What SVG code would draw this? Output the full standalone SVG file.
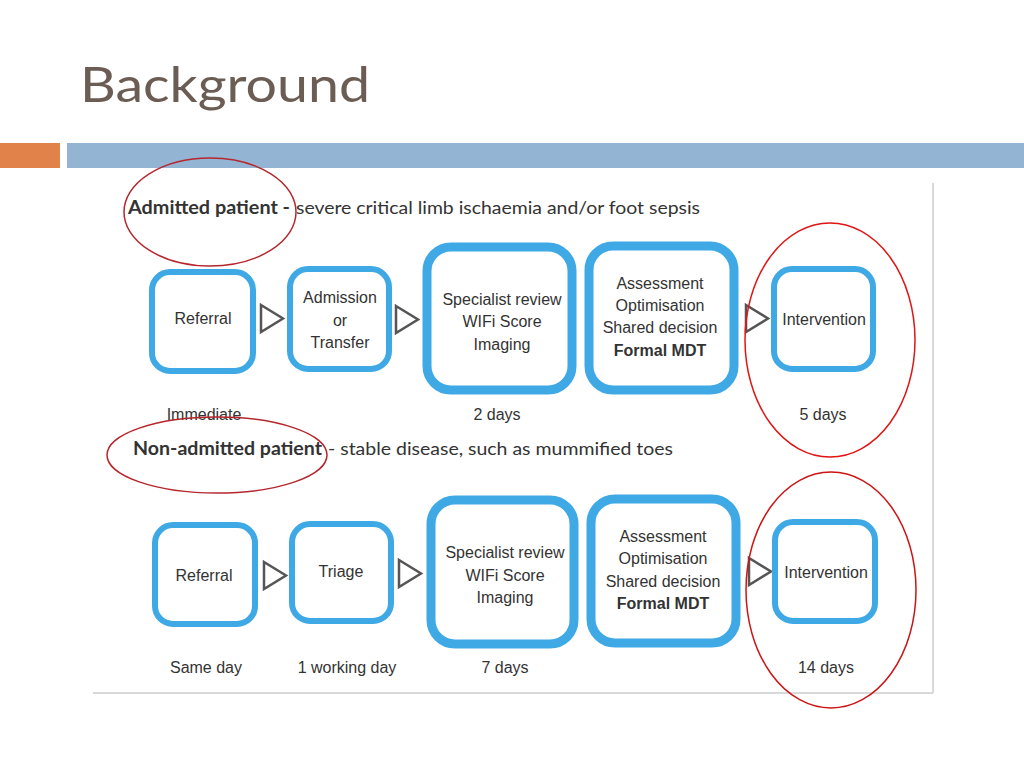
<svg xmlns="http://www.w3.org/2000/svg" width="1024" height="768" viewBox="0 0 1024 768">
<style>
.box{fill:#fff;stroke:#3fa9e6;stroke-width:6}
.big{stroke-width:9}
.t{font-family:"Liberation Sans",Arial,sans-serif;font-size:16px;fill:#333;text-anchor:middle}
.b{font-weight:bold}
.lab{font-family:"Liberation Sans",Arial,sans-serif;font-size:16px;fill:#333;text-anchor:middle}
.hd{font-family:Lato,"Open Sans",sans-serif;font-size:18px;fill:#333}
.arr{fill:#fff;stroke:#555;stroke-width:2.5;stroke-linejoin:miter}
.ov{fill:none;stroke-width:1.5}
</style>
<rect width="1024" height="768" fill="#fff"/>
<text x="80" y="102" font-family="Lato,'Open Sans',sans-serif" font-size="48" fill="#6b5d53" textLength="290" lengthAdjust="spacingAndGlyphs">Background</text>
<rect x="0" y="143" width="60" height="25" fill="#e0824a"/>
<rect x="67" y="143" width="957" height="25" fill="#94b4d3"/>
<g id="frame">
<line x1="933" y1="183" x2="933" y2="693" stroke="#ccc" stroke-width="1.5"/>
<line x1="93" y1="693" x2="933" y2="693" stroke="#ccc" stroke-width="1.5"/>
</g>
<g id="header1">
<text class="hd" y="214"><tspan x="128" font-weight="bold" textLength="162" lengthAdjust="spacingAndGlyphs">Admitted patient -</tspan><tspan x="296" textLength="404" lengthAdjust="spacingAndGlyphs">severe critical limb ischaemia and/or foot sepsis</tspan></text>
</g>
<g id="header2">
<text class="hd" y="455"><tspan x="133" font-weight="bold" textLength="189" lengthAdjust="spacingAndGlyphs">Non-admitted patient</tspan><tspan x="328" textLength="345" lengthAdjust="spacingAndGlyphs">- stable disease, such as mummified toes</tspan></text>
</g>
<g id="connectors">
<polygon class="arr" points="261,305 283,318.5 261,332"/>
<polygon class="arr" points="396,306 418,319.5 396,333"/>
<polygon class="arr" points="746,305 768,318.5 746,332"/>
<polygon class="arr" points="264,562 286,575.5 264,589"/>
<polygon class="arr" points="399,560 421,573.5 399,587"/>
<polygon class="arr" points="749,558 771,571.5 749,585"/>
</g>
<g id="r1-referral"><rect class="box" x="152" y="272" width="101" height="99" rx="18"/><text class="t" x="203" y="324">Referral</text></g>
<g id="r1-admission"><rect class="box" x="290" y="269" width="99" height="100" rx="18"/><text class="t" x="340" y="303">Admission</text><text class="t" x="340" y="326">or</text><text class="t" x="340" y="348">Transfer</text></g>
<g id="r1-specialist"><rect class="box big" x="427" y="247" width="145" height="143" rx="24"/><text class="t" x="502" y="305">Specialist review</text><text class="t" x="502" y="327">WIFi Score</text><text class="t" x="502" y="350">Imaging</text></g>
<g id="r1-assessment"><rect class="box big" x="589" y="246" width="145" height="144" rx="24"/><text class="t" x="660" y="289">Assessment</text><text class="t" x="660" y="311">Optimisation</text><text class="t" x="660" y="333">Shared decision</text><text class="t b" x="660" y="356">Formal MDT</text></g>
<g id="r1-intervention"><rect class="box" x="774" y="269" width="99" height="100" rx="18"/><text class="t" x="824" y="325">Intervention</text></g>
<text class="lab" x="204" y="420">Immediate</text>
<text class="lab" x="497" y="420">2 days</text>
<text class="lab" x="823" y="420">5 days</text>
<g id="r2-referral"><rect class="box" x="155" y="525" width="100" height="99" rx="18"/><text class="t" x="204" y="581">Referral</text></g>
<g id="r2-triage"><rect class="box" x="292" y="524" width="99" height="97" rx="18"/><text class="t" x="341" y="577">Triage</text></g>
<g id="r2-specialist"><rect class="box big" x="431" y="500" width="143" height="144" rx="24"/><text class="t" x="505" y="558">Specialist review</text><text class="t" x="505" y="581">WIFi Score</text><text class="t" x="505" y="603">Imaging</text></g>
<g id="r2-assessment"><rect class="box big" x="591" y="499" width="145" height="144" rx="24"/><text class="t" x="663" y="542">Assessment</text><text class="t" x="663" y="564">Optimisation</text><text class="t" x="663" y="587">Shared decision</text><text class="t b" x="663" y="609">Formal MDT</text></g>
<g id="r2-intervention"><rect class="box" x="775" y="522" width="100" height="99" rx="18"/><text class="t" x="826" y="578">Intervention</text></g>
<text class="lab" x="206" y="673">Same day</text>
<text class="lab" x="347" y="673">1 working day</text>
<text class="lab" x="505" y="673">7 days</text>
<text class="lab" x="826" y="673">14 days</text>
<g id="highlights">
<ellipse class="ov" cx="210" cy="212" rx="86" ry="54" stroke="#b5272d"/>
<ellipse class="ov" cx="217" cy="455" rx="110" ry="38" stroke="#b5272d"/>
<ellipse class="ov" cx="830" cy="340" rx="85" ry="117" stroke="#e01515"/>
<ellipse class="ov" cx="831" cy="590" rx="85" ry="118" stroke="#cc1515"/>
</g>
</svg>
